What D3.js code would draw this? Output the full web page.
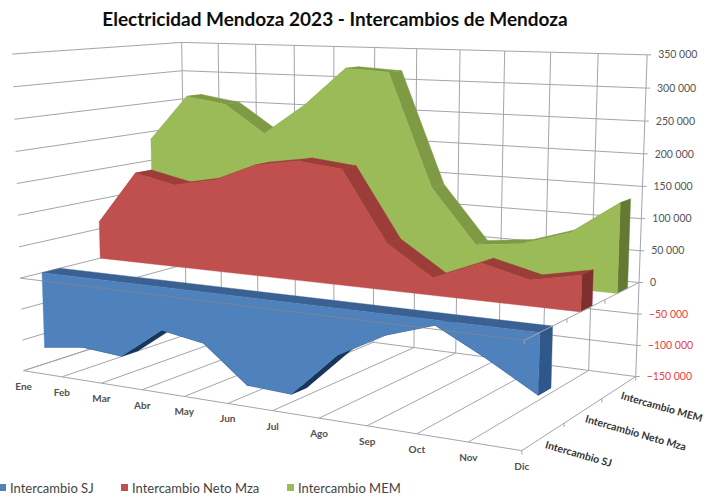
<!DOCTYPE html>
<html><head><meta charset="utf-8">
<script src="https://cdn.jsdelivr.net/npm/d3@7/dist/d3.min.js"></script>
<style>html,body{margin:0;padding:0;background:#fff}svg{display:block}text{font-family:Lato,"Open Sans",sans-serif}</style></head><body>
<svg id="c" width="712" height="498"></svg>
<script>
const title="Electricidad Mendoza 2023 - Intercambios de Mendoza";
const months=["Ene","Feb","Mar","Abr","May","Jun","Jul","Ago","Sep","Oct","Nov","Dic"];
const seriesNames=["Intercambio SJ","Intercambio Neto Mza","Intercambio MEM"];
const intercambioSJ=[-122500,-113200,-118400,-67800,-79100,-134400,-137800,-69300,-30700,-7500,-44900,-86600];
const intercambioNeto=[61600,149000,134400,147600,176300,187200,179600,72400,26300,56100,38400,53200];
const intercambioMEM=[186500,264300,253800,208600,258500,321200,317200,138700,54000,62200,85700,137200];
const seriesValues=[intercambioSJ,intercambioNeto,intercambioMEM];
const faceColors=["#4f81bd","#c0504d","#9bbb59"];
const topColors=["#3a6191","#9c3d3a","#7f9a45"];
const endColors=["#30578a","#7f302e","#647a32"];
const undersideColor="#17365d";
const gridColor="#a4a4ac";

const svg=d3.select("#c");
// projective camera calibrated from the box corners of the 3-D plot
const calib=[[0,0,-150000,24,370],[1,0,-150000,522,451],[0,1,-150000,186,318],[1,1,-150000,636,376],[0,0,350000,12,54],[0,1,350000,182,42],[1,1,350000,647,55],[0,0,0,20,278],[1,0,0,524,341],[1,1,0,639,282],[0,1,0,185,238]];
const valS=d3.scaleLinear().domain([-150000,350000]).range([0,1]);
const monS=d3.scalePoint().domain(months).range([0,1]);
const serS=d3.scaleBand().domain(seriesNames).range([0,1]).paddingInner(.7).paddingOuter(.35);
const depthS=d3.scalePoint().domain(seriesNames).range([1/6,5/6]);
function solve(){const A=[],b=[];calib.forEach(c=>{const u=c[0],v=c[1],w=valS(c[2]),x=c[3],y=c[4];
A.push([u,v,w,1,0,0,0,0,-x*u,-x*v,-x*w]);b.push(x);A.push([0,0,0,0,u,v,w,1,-y*u,-y*v,-y*w]);b.push(y);});
const n=11,M=d3.range(n).map(i=>d3.range(n+1).map(j=>{let s=0;A.forEach((r,k)=>{s+=r[i]*(j<n?r[j]:b[k])});return s}));
for(let i=0;i<n;i++){let p=i;for(let r=i+1;r<n;r++)if(Math.abs(M[r][i])>Math.abs(M[p][i]))p=r;[M[i],M[p]]=[M[p],M[i]];
for(let r=0;r<n;r++)if(r!=i){const f=M[r][i]/M[i][i];for(let j=i;j<=n;j++)M[r][j]-=f*M[i][j];}}
return M.map((r,i)=>r[n]/r[i]);}
const P=solve();
function proj(u,v,val){const w=valS(val),d=P[8]*u+P[9]*v+P[10]*w+1;return [(P[0]*u+P[1]*v+P[2]*w+P[3])/d,(P[4]*u+P[5]*v+P[6]*w+P[7])/d];}
const line=d3.line();
function seg(a,b,color,width,g){g.append("path").attr("d",line([a,b])).attr("stroke",color).attr("stroke-width",width||1).attr("fill","none");}
function poly(pts,fill,g){g.append("path").attr("d",line(pts)+"Z").attr("fill",fill).attr("stroke",fill).attr("stroke-width",.4);}

const ticks=valS.ticks(10);
const fmtLocale=d3.formatLocale({decimal:",",thousands:"\u00a0",grouping:[3],currency:["",""]});
const fmt=fmtLocale.format(",");
const grid=svg.append("g");
const vmin=valS.domain()[0],vmax=valS.domain()[1];
// walls
ticks.forEach(t=>{seg(proj(0,0,t),proj(0,1,t),gridColor,1,grid);seg(proj(0,1,t),proj(1,1,t),gridColor,1,grid);
  const p=proj(1,1,t);seg(p,[p[0]+4,p[1]],gridColor,1,grid);});
months.forEach(m=>{const u=monS(m);seg(proj(u,1,vmin),proj(u,1,vmax),gridColor,1,grid);seg(proj(u,0,vmin),proj(u,1,vmin),gridColor,1,grid);});
seg(proj(0,0,vmin),proj(1,0,vmin),gridColor,1,grid);
// depth axis on the floor with ticks
d3.range(0,4).forEach(i=>{const p=proj(1,i/3,vmin);seg(p,[p[0],p[1]+4],gridColor,1,grid);});

const marks=svg.append("g");
[2,1,0].forEach(k=>{
 const vals=seriesValues[k],name=seriesNames[k];
 const vF=serS(name),vB=vF+serS.bandwidth();
 const g=marks.append("g");
 months.forEach((m,i)=>{if(i<11){const u=monS(m),u2=monS(months[i+1]);
   poly([proj(u,vF,vals[i]),proj(u2,vF,vals[i+1]),proj(u2,vB,vals[i+1]),proj(u,vB,vals[i])],k==0?undersideColor:topColors[k],g);}});
 if(k==0) poly([proj(0,vF,0),proj(1,vF,0),proj(1,vB,0),proj(0,vB,0)],topColors[0],g);
 poly([proj(1,vF,0),proj(1,vF,vals[11]),proj(1,vB,vals[11]),proj(1,vB,0)],endColors[k],g);
 const top=months.map((m,i)=>proj(monS(m),vF,vals[i]));
 poly([proj(0,vF,0)].concat(top,[proj(1,vF,0)]),faceColors[k],g);
});
// value-zero plane edges drawn over the marks
const over=svg.append("g");
seg(proj(0,0,0),proj(1,0,0),"rgba(135,135,135,.75)",1,over);
seg(proj(1,0,0),proj(1,1,0),gridColor,1,over);
d3.range(0,3).forEach(i=>{const p=proj(1,i/3,0);seg(p,[p[0],p[1]+4],gridColor,1,over);});

// texts
svg.append("text").attr("x",335).attr("y",26).attr("text-anchor","middle").attr("font-size",19).attr("font-weight",700).attr("fill","#0d0d0d").text(title);
ticks.forEach(t=>{const p=proj(1,1,t);svg.append("text").attr("x",p[0]+11).attr("y",p[1]).attr("dy",".35em").attr("font-size",10.5).attr("fill",t<0?"#e8404a":"#555").text(fmt(t));});
months.forEach(m=>{const p=proj(monS(m),0,vmin);svg.append("text").attr("x",p[0]).attr("y",p[1]+15.5).attr("dy",".35em").attr("text-anchor","middle").attr("font-size",10).attr("font-weight",700).attr("fill","#505050").text(m);});
seriesNames.forEach(s=>{const p=proj(1,depthS(s),vmin);svg.append("text").attr("transform",`translate(${p[0]+2},${p[1]+8}) rotate(16)`).attr("dy",".35em").attr("font-size",10.5).attr("font-weight",700).attr("fill","#333").text(s);});
// legend
const legendX=d3.scaleOrdinal().domain(seriesNames).range([0,122,288]);
seriesNames.forEach((s,k)=>{const x=legendX(s);
 svg.append("rect").attr("x",x-1).attr("y",484).attr("width",7).attr("height",7).attr("fill",faceColors[k]);
 svg.append("text").attr("x",x+10).attr("y",488).attr("dy",".35em").attr("font-size",13).attr("fill","#444").text(s);});
</script></body></html>
